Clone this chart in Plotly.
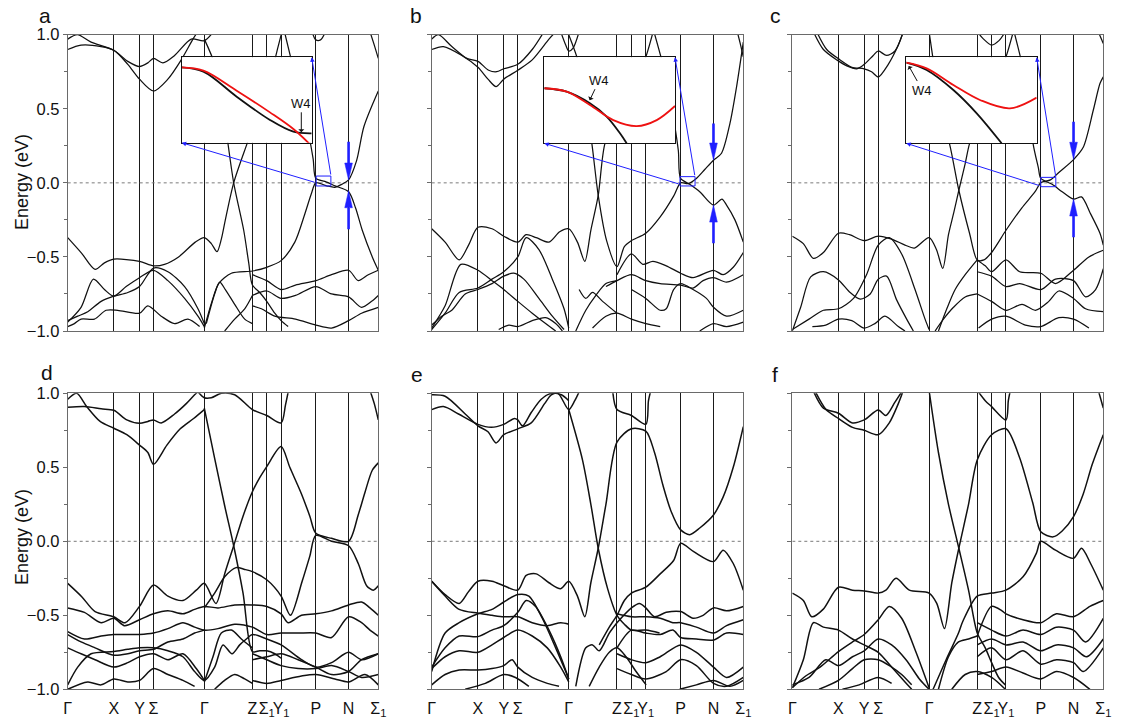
import plotly.graph_objects as go

# ---------------------------------------------------------------- k-path / energy axes
K_TICKS = [0, 138, 215, 257, 409, 553, 596, 639, 743, 841, 930]
K_LABELS = ["Γ", "X", "Y", "Σ", "Γ", "Z", "Σ<sub>1</sub>", "Y<sub>1</sub>", "P", "N", "Σ<sub>1</sub>"]
E_MAJOR = [-1.0, -0.5, 0.0, 0.5, 1.0]
E_MINOR = [-0.75, -0.25, 0.25, 0.75]
E_FERMI = 0.0

# ---------------------------------------------------------------- band data, (k, E in eV)
BANDS_A = [
    [(0, 0.97), (29, 1.0), (70, 0.95), (138, 0.895), (180, 0.82), (215, 0.785), (240, 0.81), (257, 0.84), (285, 0.81), (320, 0.86), (370, 0.97), (409, 0.96), (440, 1.03)],
    [(0, 0.90), (40, 0.93), (100, 0.92), (138, 0.895), (180, 0.80), (215, 0.70), (257, 0.62), (300, 0.70), (340, 0.83), (375, 0.97), (392, 1.03)],
    [(409, 0.97), (440, 0.80), (470, 0.42), (497, 0.0), (527, -0.32), (542, -0.54), (553, -0.69), (575, -0.74), (596, -0.80), (620, -0.88), (639, -0.93), (660, -0.97)],
    [(0, -0.37), (42, -0.476), (82, -0.584), (110, -0.54), (138, -0.515), (215, -0.53), (257, -0.56), (290, -0.55), (332, -0.50), (382, -0.40), (409, -0.37), (430, -0.41), (447, -0.465), (460, -0.38), (472, -0.25), (497, 0.0), (537, 0.265), (553, 0.37), (596, 0.62), (630, 0.92), (645, 1.05)],
    [(648, 1.03), (675, 0.78), (700, 0.57), (720, 0.35), (735, 0.16), (743, 0.03), (770, 0.01), (800, -0.02), (841, -0.06), (862, -0.17), (882, -0.32), (912, -0.50), (930, -0.59)],
    [(409, -0.98), (432, -0.80), (452, -0.68), (490, -0.61), (553, -0.595), (596, -0.57), (639, -0.525), (680, -0.40), (710, -0.21), (730, -0.07), (743, 0.0), (775, -0.02), (800, -0.03), (820, -0.01), (841, 0.02), (865, 0.15), (887, 0.38), (930, 0.62)],
    [(905, 1.02), (918, 0.93), (930, 0.84)],
    [(733, 1.01), (743, 0.965), (757, 0.965), (770, 1.01)],
    [(553, -0.62), (596, -0.66), (639, -0.72), (682, -0.69), (743, -0.66), (790, -0.62), (841, -0.59), (870, -0.66), (900, -0.62), (930, -0.59)],
    [(553, -0.76), (596, -0.73), (639, -0.78), (682, -0.76), (743, -0.70), (790, -0.75), (841, -0.77), (880, -0.84), (910, -0.80), (930, -0.76)],
    [(553, -0.83), (580, -0.85), (620, -0.90), (682, -0.92), (743, -0.96), (790, -0.98), (841, -0.93), (880, -0.88), (930, -0.84)],
    [(0, -0.94), (40, -0.84), (77, -0.65), (110, -0.72), (138, -0.765), (175, -0.70), (215, -0.64), (257, -0.59), (300, -0.66), (350, -0.78), (390, -0.90), (409, -0.97)],
    [(0, -0.93), (30, -0.90), (60, -0.87), (100, -0.80), (138, -0.765), (180, -0.74), (215, -0.70), (257, -0.575), (300, -0.60), (350, -0.70), (390, -0.85), (409, -0.95)],
    [(0, -0.97), (20, -0.95), (40, -0.92), (80, -0.92), (115, -0.86), (150, -0.86), (215, -0.88), (240, -0.83), (280, -0.90), (320, -0.95), (360, -0.92), (395, -0.97)],
    [(415, -0.95), (440, -0.75), (455, -0.67), (472, -0.72), (500, -0.82), (530, -0.92), (553, -0.95)],
    [(470, -1.0), (500, -0.92), (530, -0.85), (553, -0.76)],
]

BANDS_B = [
    [(0, 0.97), (20, 1.0), (60, 0.92), (105, 0.84), (138, 0.82), (170, 0.76), (194, 0.75), (215, 0.77), (257, 0.80), (300, 0.90), (335, 1.02)],
    [(0, 0.90), (35, 0.92), (90, 0.86), (138, 0.78), (168, 0.70), (192, 0.65), (215, 0.70), (257, 0.76), (300, 0.83), (350, 0.97), (370, 1.02)],
    [(385, 1.02), (400, 0.93), (409, 0.89), (422, 0.91), (440, 1.02)],
    [(0, -0.31), (40, -0.40), (82, -0.52), (110, -0.42), (138, -0.30), (180, -0.31), (215, -0.36), (257, -0.40), (282, -0.35), (312, -0.37), (350, -0.40), (382, -0.33), (409, -0.31), (435, -0.40), (457, -0.53), (475, -0.32), (497, -0.085), (517, 0.265), (553, 0.45), (596, 0.62), (639, 0.85), (662, 1.03)],
    [(409, 1.0), (440, 0.80), (460, 0.52), (478, 0.265), (497, -0.085), (522, -0.39), (553, -0.566), (575, -0.43), (596, -0.39), (639, -0.34), (682, -0.23), (722, -0.09), (743, 0.0), (765, -0.005), (790, 0.03), (815, 0.09), (841, 0.153), (865, 0.20), (890, 0.40), (910, 0.65), (930, 0.95)],
    [(662, 1.03), (692, 0.78), (716, 0.51), (736, 0.22), (743, 0.03), (770, -0.01), (800, -0.06), (841, -0.15), (866, -0.11), (880, -0.15), (905, -0.25), (930, -0.40)],
    [(912, 1.02), (922, 0.93), (930, 0.85)],
    [(0, -0.98), (40, -0.83), (87, -0.55), (138, -0.59), (180, -0.66), (215, -0.72), (257, -0.80), (300, -0.88), (340, -0.95), (370, -1.0)],
    [(0, -0.99), (40, -0.88), (82, -0.74), (138, -0.71), (180, -0.65), (215, -0.60), (257, -0.50), (282, -0.37), (320, -0.45), (360, -0.65), (395, -0.85), (409, -0.98)],
    [(0, -0.96), (30, -0.90), (60, -0.86), (100, -0.75), (138, -0.72), (180, -0.68), (215, -0.63), (245, -0.61), (275, -0.65), (320, -0.78), (360, -0.90), (395, -0.99)],
    [(200, -0.99), (230, -0.96), (257, -0.97), (300, -0.93), (340, -0.91), (370, -0.95), (390, -1.0)],
    [(553, -0.62), (596, -0.48), (630, -0.55), (660, -0.53), (700, -0.56), (743, -0.61), (780, -0.64), (841, -0.59), (870, -0.62), (900, -0.57), (930, -0.47)],
    [(520, -0.70), (553, -0.66), (596, -0.62), (639, -0.66), (682, -0.68), (743, -0.69), (780, -0.71), (810, -0.66), (841, -0.64), (880, -0.67), (930, -0.62)],
    [(596, -0.72), (639, -0.78), (682, -0.86), (700, -0.85), (722, -0.72), (743, -0.68), (780, -0.72), (820, -0.78), (841, -0.84), (880, -0.90), (930, -0.86)],
    [(480, -0.98), (520, -0.90), (553, -0.88), (596, -0.92), (639, -0.95), (682, -0.97)],
    [(430, -1.0), (460, -0.86), (490, -0.76), (520, -0.68), (553, -0.66)],
    [(440, -0.72), (460, -0.78), (480, -0.74), (510, -0.80), (553, -0.88)],
    [(800, -1.0), (841, -0.95), (880, -0.97), (930, -0.94)],
]

BANDS_C = [
    [(63, 1.02), (93, 0.90), (133, 0.83), (163, 0.79), (193, 0.77), (215, 0.80), (242, 0.86), (257, 0.89), (282, 0.86), (307, 0.89), (332, 1.02)],
    [(73, 1.02), (103, 0.90), (143, 0.83), (178, 0.78), (215, 0.77), (237, 0.75), (257, 0.715), (287, 0.80), (317, 0.93), (332, 1.02)],
    [(553, 1.02), (572, 0.97), (596, 0.93), (618, 0.96), (637, 1.02)],
    [(0, -0.36), (33, -0.41), (63, -0.51), (93, -0.47), (138, -0.34), (171, -0.35), (215, -0.39), (257, -0.36), (297, -0.38), (337, -0.42), (365, -0.44), (409, -0.37), (431, -0.45), (450, -0.578), (467, -0.35), (483, -0.20), (498, -0.05), (517, 0.13), (530, 0.265), (553, 0.40), (596, 0.60), (639, 0.85), (662, 1.03)],
    [(409, 1.02), (420, 0.85), (445, 0.45), (470, 0.265), (498, -0.05), (530, -0.34), (553, -0.52), (573, -0.52), (596, -0.47), (639, -0.32), (686, -0.17), (726, -0.06), (743, 0.0), (772, 0.02), (797, 0.07), (841, 0.157), (870, 0.24), (900, 0.49), (920, 0.67), (930, 0.715)],
    [(662, 1.03), (687, 0.80), (707, 0.55), (720, 0.265), (736, 0.10), (743, 0.03), (777, -0.01), (807, -0.06), (841, -0.11), (865, -0.095), (890, -0.20), (920, -0.34), (930, -0.42)],
    [(915, 1.02), (930, 0.94)],
    [(553, -0.52), (577, -0.56), (596, -0.60), (639, -0.52), (680, -0.60), (743, -0.61), (787, -0.68), (841, -0.59), (887, -0.50), (930, -0.455)],
    [(553, -0.60), (596, -0.63), (639, -0.70), (680, -0.68), (743, -0.72), (787, -0.65), (841, -0.66), (877, -0.77), (907, -0.72), (930, -0.58)],
    [(553, -0.75), (596, -0.80), (639, -0.86), (687, -0.82), (727, -0.86), (767, -0.80), (797, -0.73), (841, -0.78), (877, -0.85), (930, -0.87)],
    [(557, -0.98), (596, -0.92), (639, -0.90), (697, -0.96), (743, -0.97), (797, -0.91), (841, -0.92), (887, -0.98)],
    [(437, -1.0), (462, -0.85), (487, -0.72), (517, -0.62), (553, -0.52)],
    [(427, -1.0), (452, -0.92), (482, -0.84), (517, -0.77), (553, -0.75)],
    [(0, -1.0), (25, -0.84), (55, -0.635), (93, -0.60), (138, -0.655), (173, -0.74), (203, -0.785), (233, -0.75), (257, -0.65), (282, -0.63), (312, -0.79), (342, -0.92), (362, -1.0)],
    [(0, -0.99), (50, -0.92), (93, -0.86), (138, -0.85), (183, -0.78), (222, -0.62), (257, -0.42), (290, -0.37), (327, -0.48), (367, -0.72), (397, -0.92), (409, -0.99)],
    [(60, -0.97), (100, -0.96), (138, -0.92), (178, -0.93), (215, -0.98), (247, -0.95), (277, -0.90), (317, -0.97), (337, -1.0)],
]

BANDS_D = [
    [(0, 0.96), (27, 1.0), (57, 0.91), (97, 0.81), (138, 0.764), (177, 0.72), (215, 0.65), (240, 0.60), (257, 0.52), (297, 0.65), (337, 0.76), (377, 0.83), (409, 0.89)],
    [(0, 0.905), (50, 0.91), (100, 0.895), (138, 0.885), (177, 0.82), (215, 0.797), (240, 0.81), (257, 0.82), (280, 0.80), (320, 0.86), (355, 0.93), (380, 0.99), (395, 1.02)],
    [(390, 1.01), (409, 0.97), (430, 0.97), (460, 1.0), (500, 0.99), (553, 0.89), (596, 0.85), (639, 0.80), (652, 0.92), (662, 1.03)],
    [(409, 0.90), (440, 0.56), (470, 0.24), (497, -0.03), (525, -0.35), (553, -0.745), (575, -0.74), (596, -0.74), (620, -0.76), (639, -0.79)],
    [(0, -0.284), (42, -0.374), (82, -0.475), (138, -0.51), (172, -0.55), (215, -0.44), (257, -0.295), (300, -0.37), (345, -0.40), (385, -0.33), (409, -0.284), (444, -0.42), (470, -0.22), (497, -0.03), (525, 0.17), (553, 0.335), (575, 0.43), (596, 0.505), (639, 0.64), (665, 0.50), (700, 0.32), (725, 0.17), (743, 0.054), (790, 0.02), (841, 0.0), (870, 0.18), (890, 0.33), (912, 0.48), (930, 0.53)],
    [(409, -0.45), (440, -0.35), (470, -0.24), (504, -0.178), (530, -0.19), (553, -0.205), (596, -0.26), (639, -0.37), (667, -0.50), (702, -0.27), (725, -0.10), (743, 0.04), (790, 0.0), (841, -0.03), (870, -0.15), (895, -0.30), (915, -0.33), (930, -0.30)],
    [(905, 1.02), (918, 0.93), (930, 0.82)],
    [(0, -0.45), (50, -0.48), (100, -0.55), (138, -0.52), (170, -0.57), (215, -0.53), (257, -0.49), (300, -0.47), (345, -0.49), (380, -0.46), (409, -0.44), (450, -0.45), (500, -0.43), (553, -0.43), (596, -0.44), (639, -0.49), (660, -0.55), (700, -0.50), (743, -0.49), (790, -0.47), (841, -0.43), (880, -0.41), (905, -0.45), (930, -0.50)],
    [(0, -0.61), (50, -0.66), (100, -0.64), (138, -0.63), (215, -0.63), (257, -0.62), (300, -0.59), (345, -0.55), (380, -0.58), (409, -0.60), (450, -0.59), (500, -0.56), (553, -0.58), (596, -0.63), (639, -0.62), (690, -0.62), (743, -0.62), (790, -0.65), (841, -0.51), (880, -0.55), (905, -0.60), (930, -0.64)],
    [(0, -0.97), (30, -0.85), (70, -0.76), (138, -0.745), (180, -0.73), (215, -0.72), (257, -0.72), (300, -0.74), (345, -0.78), (380, -0.88), (409, -0.94), (440, -0.85), (465, -0.70), (492, -0.76), (515, -0.70), (535, -0.66), (553, -0.63), (596, -0.66), (639, -0.70), (700, -0.80), (743, -0.85), (790, -0.82), (841, -0.75), (880, -0.80), (930, -0.76)],
    [(0, -0.72), (40, -0.76), (82, -0.80), (138, -0.85), (180, -0.82), (215, -0.78), (257, -0.76), (300, -0.80), (345, -0.76), (385, -0.86), (409, -0.94)],
    [(0, -1.0), (60, -0.95), (100, -0.97), (138, -0.93), (180, -0.95), (215, -0.94), (257, -0.86), (300, -0.90), (345, -0.94), (380, -0.98)],
    [(553, -0.80), (596, -0.78), (639, -0.76), (690, -0.80), (743, -0.85), (790, -0.90), (841, -0.88), (880, -0.80), (930, -0.76)],
    [(553, -0.94), (596, -0.96), (639, -0.94), (700, -0.91), (743, -0.90), (800, -0.93), (841, -0.95), (890, -0.90), (930, -0.97)],
    [(440, -1.0), (470, -0.94), (500, -0.90), (530, -0.93), (553, -0.96)],
    [(409, -0.95), (435, -0.78), (460, -0.62), (490, -0.60), (520, -0.66), (553, -0.72)],
    [(553, -0.76), (575, -0.78), (596, -0.80), (639, -0.84), (690, -0.86), (743, -0.86), (790, -0.84), (841, -0.88), (880, -0.92), (930, -0.90)],
    [(0, -0.63), (40, -0.68), (82, -0.72), (138, -0.77), (180, -0.76), (215, -0.74), (257, -0.73), (300, -0.68), (345, -0.66), (380, -0.62), (409, -0.60)],
]

BANDS_E = [
    [(0, 0.99), (40, 0.98), (100, 0.86), (138, 0.78), (168, 0.74), (192, 0.665), (215, 0.72), (257, 0.76), (297, 0.80), (337, 0.93), (357, 0.99), (377, 1.0), (409, 0.89), (427, 0.95), (442, 1.02)],
    [(0, 0.89), (35, 0.91), (80, 0.86), (138, 0.79), (178, 0.77), (215, 0.79), (247, 0.83), (257, 0.82), (271, 0.78), (297, 0.87), (327, 0.96), (357, 1.0), (387, 0.99), (409, 0.95)],
    [(540, 1.02), (553, 0.89), (596, 0.85), (639, 0.79), (647, 0.95), (654, 1.02)],
    [(0, -0.27), (40, -0.36), (82, -0.42), (110, -0.34), (138, -0.27), (180, -0.27), (215, -0.30), (257, -0.33), (282, -0.23), (312, -0.22), (350, -0.28), (385, -0.32), (409, -0.27), (435, -0.37), (457, -0.51), (475, -0.28), (497, -0.047), (520, 0.25), (553, 0.67), (596, 0.76), (639, 0.745), (665, 0.60), (690, 0.38), (715, 0.20), (743, 0.077), (770, 0.045), (800, 0.09), (841, 0.178), (870, 0.30), (900, 0.50), (930, 0.775)],
    [(409, 0.89), (450, 0.55), (475, 0.25), (497, -0.047), (525, -0.32), (553, -0.50), (575, -0.56), (596, -0.60), (639, -0.60), (680, -0.62)],
    [(500, -0.70), (530, -0.58), (553, -0.50), (575, -0.40), (596, -0.35), (639, -0.31), (682, -0.22), (722, -0.13), (743, -0.014), (782, -0.07), (841, -0.137), (870, -0.06), (900, -0.15), (930, -0.33)],
    [(0, -0.88), (40, -0.62), (82, -0.55), (138, -0.49), (180, -0.46), (215, -0.41), (257, -0.36), (290, -0.37), (330, -0.52), (370, -0.72), (400, -0.88), (409, -0.93)],
    [(0, -0.85), (40, -0.72), (82, -0.64), (138, -0.644), (180, -0.60), (215, -0.57), (257, -0.48), (282, -0.40), (310, -0.44), (350, -0.60), (385, -0.78), (409, -0.93)],
    [(0, -0.27), (40, -0.37), (82, -0.46), (138, -0.486), (180, -0.50), (215, -0.51), (257, -0.51), (300, -0.55), (345, -0.57), (385, -0.55), (409, -0.56)],
    [(0, -0.97), (40, -0.90), (82, -0.87), (138, -0.87), (180, -0.86), (215, -0.84), (240, -0.80), (257, -0.85), (300, -0.92), (345, -0.96), (380, -0.98)],
    [(100, -1.0), (160, -0.96), (215, -0.90), (250, -0.92), (290, -0.98)],
    [(553, -0.55), (596, -0.45), (620, -0.42), (639, -0.45), (665, -0.51), (700, -0.48), (743, -0.475), (780, -0.52), (810, -0.50), (841, -0.45), (880, -0.47), (930, -0.44)],
    [(553, -0.49), (596, -0.51), (639, -0.51), (682, -0.52), (720, -0.55), (743, -0.55), (790, -0.58), (841, -0.62), (880, -0.57), (930, -0.53)],
    [(553, -0.72), (596, -0.60), (639, -0.62), (682, -0.63), (720, -0.60), (743, -0.65), (790, -0.66), (841, -0.667), (880, -0.62), (930, -0.63)],
    [(553, -0.76), (596, -0.80), (639, -0.82), (682, -0.78), (743, -0.70), (790, -0.75), (841, -0.85), (880, -0.92), (930, -0.85)],
    [(470, -0.98), (500, -0.85), (530, -0.75), (553, -0.72), (580, -0.78), (610, -0.88), (640, -0.97)],
    [(430, -0.98), (460, -0.72), (480, -0.70), (500, -0.74), (530, -0.62), (553, -0.55)],
    [(740, -1.0), (790, -0.97), (841, -0.94), (890, -0.98), (930, -0.94)],
    [(0, -0.86), (40, -0.78), (82, -0.74), (138, -0.75), (180, -0.70), (215, -0.65), (257, -0.60), (300, -0.64), (345, -0.72), (385, -0.85), (409, -0.95)],
    [(553, -0.86), (596, -0.90), (639, -0.93), (700, -0.88), (743, -0.80), (790, -0.84), (841, -0.96), (880, -0.98), (930, -0.92)],
]

BANDS_F = [
    [(62, 1.02), (93, 0.90), (138, 0.865), (180, 0.80), (215, 0.82), (257, 0.887), (280, 0.85), (307, 0.94), (330, 1.02)],
    [(67, 1.02), (101, 0.89), (138, 0.83), (180, 0.77), (215, 0.75), (257, 0.72), (290, 0.80), (317, 0.93), (332, 1.02)],
    [(553, 1.02), (577, 0.95), (596, 0.91), (639, 0.82), (646, 0.95), (652, 1.02)],
    [(0, -0.35), (33, -0.40), (58, -0.51), (92, -0.46), (138, -0.31), (180, -0.33), (215, -0.335), (257, -0.35), (280, -0.33), (310, -0.25), (350, -0.33), (409, -0.35), (432, -0.42), (455, -0.59), (477, -0.28), (498, -0.047), (527, 0.25), (553, 0.55), (596, 0.72), (639, 0.76), (679, 0.57), (719, 0.26), (743, 0.065), (780, 0.03), (807, 0.07), (841, 0.167), (870, 0.32), (897, 0.52), (930, 0.72)],
    [(409, 1.02), (437, 0.60), (467, 0.25), (498, -0.047), (527, -0.33), (553, -0.62), (577, -0.72), (596, -0.82), (617, -0.92), (637, -0.97)],
    [(421, -1.0), (460, -0.80), (497, -0.62), (510, -0.54), (553, -0.37), (596, -0.35), (639, -0.33), (690, -0.24), (730, -0.08), (743, 0.0), (787, -0.06), (841, -0.115), (865, -0.047), (892, -0.15), (930, -0.33)],
    [(0, -0.99), (33, -0.80), (63, -0.55), (93, -0.58), (138, -0.60), (180, -0.66), (215, -0.70), (257, -0.75), (297, -0.85), (337, -0.95), (357, -1.0)],
    [(0, -0.99), (40, -0.91), (83, -0.85), (138, -0.745), (180, -0.68), (215, -0.63), (257, -0.53), (290, -0.44), (327, -0.52), (370, -0.75), (409, -0.99)],
    [(80, -1.0), (138, -0.94), (180, -0.86), (215, -0.80), (257, -0.80), (297, -0.85), (327, -0.90), (357, -0.97)],
    [(150, -1.0), (200, -0.97), (257, -0.92), (297, -0.96)],
    [(553, -0.64), (596, -0.44), (627, -0.47), (639, -0.49), (690, -0.53), (743, -0.55), (790, -0.49), (841, -0.51), (890, -0.44), (930, -0.40)],
    [(553, -0.55), (596, -0.60), (639, -0.64), (690, -0.60), (743, -0.63), (790, -0.58), (841, -0.60), (877, -0.68), (930, -0.52)],
    [(553, -0.78), (596, -0.72), (639, -0.80), (690, -0.74), (743, -0.83), (790, -0.80), (841, -0.82), (870, -0.88), (930, -0.72)],
    [(553, -0.90), (596, -0.88), (639, -0.85), (690, -0.89), (743, -0.93), (790, -0.88), (841, -0.92), (890, -1.0)],
    [(437, -1.0), (467, -0.78), (497, -0.68), (527, -0.66), (553, -0.64)],
    [(477, -1.0), (517, -0.90), (553, -0.88), (596, -0.92), (637, -1.0)],
    [(915, 1.02), (930, 0.90)],
    [(553, -0.70), (596, -0.66), (639, -0.70), (690, -0.68), (743, -0.74), (790, -0.70), (841, -0.72), (880, -0.78), (930, -0.66)],
    [(0, -0.97), (50, -0.92), (100, -0.80), (138, -0.84), (180, -0.78), (215, -0.74), (257, -0.66), (297, -0.70), (340, -0.80), (380, -0.93), (409, -1.0)],
]

# zoomed views around W4 (normalised inset units)
INSET_A_BLACK = [(0, 0.883), (0.167, 0.832), (0.423, 0.539), (0.679, 0.266), (0.859, 0.129), (1.0, 0.11)]
INSET_A_RED = [(0, 0.883), (0.167, 0.844), (0.423, 0.609), (0.679, 0.355), (0.859, 0.16), (0.987, -0.02)]
INSET_B_BLACK = [(0, 0.64), (0.171, 0.60), (0.349, 0.465), (0.477, 0.31), (0.579, 0.116), (0.63, 0.0)]
INSET_B_RED = [(0, 0.64), (0.171, 0.60), (0.349, 0.446), (0.528, 0.27), (0.707, 0.2), (0.860, 0.27), (1.0, 0.434)]
INSET_C_BLACK = [(0, 0.938), (0.156, 0.853), (0.361, 0.62), (0.540, 0.349), (0.731, 0.0)]
INSET_C_RED = [(0, 0.938), (0.156, 0.872), (0.361, 0.678), (0.565, 0.504), (0.795, 0.407), (1.0, 0.531)]

# zoom boxes around W4: (k0, k1, E0, E1)
ZOOM_BOX = {"a": (744, 788, -0.021, 0.046), "b": (741, 786, -0.021, 0.042), "c": (743, 788, -0.026, 0.037)}
# gap arrows at N: (tail, tip) energies for the upper and lower arrow
GAP_ARROWS = {"a": [(0.278, 0.019), (-0.314, -0.053)],
              "b": [(0.40, 0.154), (-0.408, -0.15)],
              "c": [(0.413, 0.159), (-0.368, -0.109)]}
K_N = 841
# W4 label: (tip u, tip v, label dx px, label dy px)
W4_LABEL = {"a": (0.92, 0.11, 0, -30), "b": (0.344, 0.49, 10, -21), "c": (0.015, 0.91, 14, 25)}

# ---------------------------------------------------------------- layout geometry
W, H = 1124, 722
COLS = [(67.7, 378.3), (431.7, 743.3), (792.3, 1103.3)]
ROWS = [(34.7, 331.0), (393.3, 689.3)]
INSETS = {"a": (181.7, 311.7, 57.3, 142.7), "b": (544.3, 675.0, 57.3, 143.3), "c": (906.3, 1036.7, 57.3, 143.3)}
# blue guide lines: inset corner (u, v) and box corner in pixels
GUIDES = {"a": [((0, 0), (316, 182.7)), ((1, 1), (331, 176))],
          "b": [((0, 0), (680, 184.3)), ((1, 1), (695, 176.7))],
          "c": [((0, 0), (1040.7, 186)), ((1, 1), (1056, 178.3))]}
LETTER_POS = {"a": (45, 15), "b": (416, 15), "c": (775, 15), "d": (47, 372), "e": (417, 374), "f": (775, 374)}

FONT = "Liberation Sans, Arial, sans-serif"
BLUE = "#1f1fff"
FRAME = "#6a6a6a"

PANELS = [("a", BANDS_A), ("b", BANDS_B), ("c", BANDS_C), ("d", BANDS_D), ("e", BANDS_E), ("f", BANDS_F)]


def px_x(p):
    return p / W


def px_y(p):
    return 1 - p / H


fig = go.Figure()
layout = {}
shapes = []
annotations = []

for idx, (letter, bands) in enumerate(PANELS, start=1):
    row, col = divmod(idx - 1, 3)
    sfx = "" if idx == 1 else str(idx)
    xa, ya = "x" + sfx, "y" + sfx
    lw = 1.25 if row == 0 else 1.5

    fig.add_trace(go.Scatter(x=[K_TICKS[0], K_TICKS[-1]], y=[E_FERMI, E_FERMI], mode="lines",
                             line=dict(color="#7a7a7a", width=1, dash="3px,3px"),
                             xaxis=xa, yaxis=ya, hoverinfo="skip", showlegend=False))
    for band in bands:
        ks = [p[0] for p in band]
        es = [p[1] for p in band]
        fig.add_trace(go.Scatter(x=ks, y=es, mode="lines",
                                 line=dict(color="#111111", width=lw, shape="spline", smoothing=0.8),
                                 xaxis=xa, yaxis=ya, hoverinfo="skip", showlegend=False))

    x0, x1 = COLS[col]
    y0, y1 = ROWS[row]
    layout["xaxis" + sfx] = dict(
        domain=[px_x(x0), px_x(x1)], anchor=ya, range=[K_TICKS[0], K_TICKS[-1]],
        tickmode="array", tickvals=K_TICKS, ticktext=K_LABELS, showticklabels=(row == 1),
        ticks="", tickangle=0, ticklabelstandoff=4, automargin=False,
        tickfont=dict(family=FONT, size=16, color="#111"),
        showgrid=True, gridcolor="#1a1a1a", gridwidth=1, zeroline=False,
        showline=True, mirror=True, linecolor=FRAME, linewidth=1, fixedrange=True)
    layout["yaxis" + sfx] = dict(
        domain=[px_y(y1), px_y(y0)], anchor=xa, range=[-1.0, 1.0], automargin=False,
        tickmode="array", tickvals=E_MAJOR, tickformat=".1f", showticklabels=(col == 0),
        ticks="outside", ticklen=4, tickwidth=1, tickcolor=FRAME,
        minor=dict(tickmode="array", tickvals=E_MINOR, ticks="outside", ticklen=3, tickcolor=FRAME, showgrid=False),
        tickfont=dict(family=FONT, size=16.5, color="#111"),
        showgrid=False, zeroline=False, showline=True, mirror=True, linecolor=FRAME, linewidth=1,
        fixedrange=True)

    lx, ly = LETTER_POS[letter]
    annotations.append(dict(text=letter, x=px_x(lx), y=px_y(ly), xref="paper", yref="paper",
                            showarrow=False, xanchor="center", yanchor="middle",
                            font=dict(family=FONT, size=21, color="#111")))

    if row == 0:
        # zoom box, guide lines and inset with the W4 crossing
        kb0, kb1, eb0, eb1 = ZOOM_BOX[letter]
        shapes.append(dict(type="rect", xref=xa, yref=ya, x0=kb0, x1=kb1, y0=eb0, y1=eb1,
                           line=dict(color=BLUE, width=1), layer="above"))
        ins = str(7 + col)
        ixa, iya = "x" + ins, "y" + ins
        ix0, ix1, iy0, iy1 = INSETS[letter]
        layout["xaxis" + ins] = dict(domain=[px_x(ix0), px_x(ix1)], anchor=iya, range=[0, 1],
                                     showgrid=False, zeroline=False, showticklabels=False, ticks="",
                                     showline=True, mirror=True, linecolor="#111", linewidth=1.2,
                                     automargin=False, fixedrange=True)
        layout["yaxis" + ins] = dict(domain=[px_y(iy1), px_y(iy0)], anchor=ixa, range=[0, 1],
                                     showgrid=False, zeroline=False, showticklabels=False, ticks="",
                                     showline=True, mirror=True, linecolor="#111", linewidth=1.2,
                                     automargin=False, fixedrange=True)
        fig.add_trace(go.Scatter(x=[0, 1, 1, 0, 0], y=[0, 0, 1, 1, 0], mode="lines", fill="toself",
                                 fillcolor="white", line=dict(width=0, color="white"),
                                 xaxis=ixa, yaxis=iya, hoverinfo="skip", showlegend=False))
        black = {"a": INSET_A_BLACK, "b": INSET_B_BLACK, "c": INSET_C_BLACK}[letter]
        red = {"a": INSET_A_RED, "b": INSET_B_RED, "c": INSET_C_RED}[letter]
        for curve, colr in ((black, "#111111"), (red, "#ee1111")):
            fig.add_trace(go.Scatter(x=[p[0] for p in curve], y=[p[1] for p in curve], mode="lines",
                                     line=dict(color=colr, width=1.8, shape="spline", smoothing=1.0),
                                     xaxis=ixa, yaxis=iya, hoverinfo="skip", showlegend=False))
        tu, tv, dx, dy = W4_LABEL[letter]
        annotations.append(dict(text="W4", x=tu, y=tv, xref=ixa, yref=iya, ax=dx, ay=dy,
                                showarrow=True, arrowhead=1, arrowsize=1, arrowwidth=1,
                                arrowcolor="#111", standoff=1,
                                font=dict(family=FONT, size=13, color="#111")))
        for (cu, cv), (bx, by) in GUIDES[letter]:
            tipx = ix0 + cu * (ix1 - ix0)
            tipy = iy1 - cv * (iy1 - iy0)
            annotations.append(dict(text="", x=cu, y=cv, xref=ixa, yref=iya,
                                    ax=bx - tipx, ay=by - tipy, axref="pixel", ayref="pixel",
                                    showarrow=True, arrowhead=2, arrowsize=0.9, arrowwidth=1,
                                    arrowcolor=BLUE, standoff=0))
        # band-gap arrows at N
        head_len = 0.115
        half_w = 11.5
        for tail, tip in GAP_ARROWS[letter]:
            sgn = 1 if tail > tip else -1
            base = tip + sgn * head_len
            shapes.append(dict(type="line", xref=xa, yref=ya, x0=K_N, x1=K_N, y0=tail, y1=base,
                               line=dict(color=BLUE, width=2.6), layer="above"))
            shapes.append(dict(type="path", xref=xa, yref=ya, layer="above",
                               path=f"M {K_N - half_w},{base} L {K_N + half_w},{base} L {K_N},{tip} Z",
                               fillcolor=BLUE, line=dict(color=BLUE, width=0.5)))

for yc in (182, 537):
    annotations.append(dict(text="Energy (eV)", x=px_x(22), y=px_y(yc), xref="paper", yref="paper",
                            showarrow=False, textangle=-90, xanchor="center", yanchor="middle",
                            font=dict(family=FONT, size=18, color="#111")))

fig.update_layout(width=W, height=H, margin=dict(l=0, r=0, t=0, b=0, autoexpand=False),
                  paper_bgcolor="white", plot_bgcolor="white", showlegend=False,
                  hovermode=False, shapes=shapes, annotations=annotations, **layout)

fig.write_html("out.html")
